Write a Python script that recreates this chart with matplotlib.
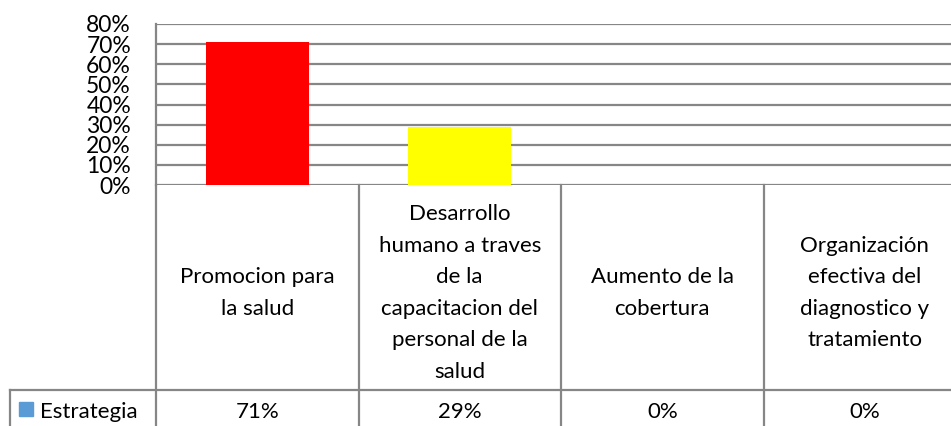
import matplotlib.pyplot as plt
import matplotlib.transforms as mtransforms
from matplotlib.patches import Rectangle
from matplotlib.ticker import PercentFormatter

categories = [
    "Promocion para\nla salud",
    "Desarrollo\nhumano a traves\nde la\ncapacitacion del\npersonal de la\nsalud",
    "Aumento de la\ncobertura",
    "Organización\nefectiva del\ndiagnostico y\ntratamiento",
]
values = [0.71, 0.29, 0.0, 0.0]
value_labels = ["71%", "29%", "0%", "0%"]
series_name = "Estrategia"
bar_colors = ["#ff0000", "#ffff00", "#ff0000", "#ff0000"]

plt.rcParams["font.family"] = ["Lato", "DejaVu Sans"]
grid_col = "#868686"
W, H = 951, 426
col_w = 202.5  # pixel width of one category column

fig = plt.figure(figsize=(W / 100, H / 100), dpi=100)
ax = fig.add_axes([156 / W, (H - 185) / H, 4 * col_w / W, (185 - 24) / H])

x = range(len(categories))
ax.bar(x, values, width=0.51, color=bar_colors, zorder=3)
ax.set_xlim(-0.5, len(categories) - 0.5)
ax.set_ylim(0, 0.8)
ax.set_yticks([i / 10 for i in range(9)])
ax.yaxis.set_major_formatter(PercentFormatter(1.0, decimals=0))
ax.tick_params(axis="y", length=0, labelsize=16.5, pad=18, colors="#000000")
ax.set_xticks([])
ax.grid(axis="y", color=grid_col, linewidth=1.6, zorder=0)
for s in ["top", "right", "bottom"]:
    ax.spines[s].set_visible(False)
ax.spines["left"].set_color(grid_col)
ax.spines["left"].set_linewidth(1.6)

# data table below the axis
def fy(py):
    return 1 - py / H

tr = mtransforms.blended_transform_factory(ax.transData, fig.transFigure)
n = len(categories)
for i in range(n + 1):
    ax.plot([i - 0.5, i - 0.5], [fy(185), fy(H + 2)], transform=tr,
            color=grid_col, lw=1.6, clip_on=False)
fig.add_artist(plt.Line2D([10 / W, 1], [fy(390), fy(390)], color=grid_col, lw=1.6))
fig.add_artist(plt.Line2D([10 / W, 10 / W], [fy(390), 0], color=grid_col, lw=1.6))

for i, (cat, lab) in enumerate(zip(categories, value_labels)):
    ax.text(i, fy(293), cat, transform=tr, ha="center", va="center",
            fontsize=16, linespacing=1.72, clip_on=False)
    ax.text(i, fy(412), lab, transform=tr, ha="center", va="center",
            fontsize=16, clip_on=False)

fig.add_artist(Rectangle((19 / W, fy(416)), 14 / W, 14 / H, color="#5b9bd5",
                         transform=fig.transFigure))
fig.text(40 / W, fy(412), series_name, ha="left", va="center", fontsize=16)

fig.savefig("out.png", dpi=100)
